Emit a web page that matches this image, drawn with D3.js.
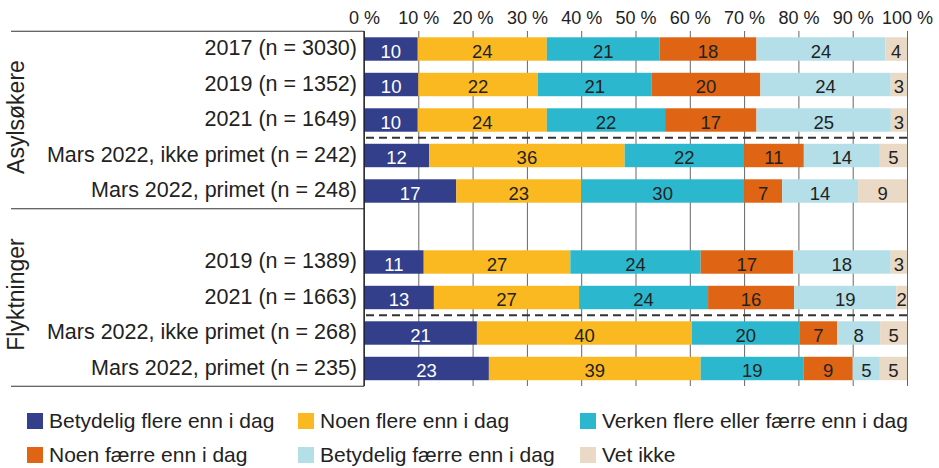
<!DOCTYPE html>
<html>
<head>
<meta charset="utf-8">
<script src="https://cdn.jsdelivr.net/npm/d3@7"></script>
<style>
  body { margin: 0; background: #fff; }
  svg { font-family: "Liberation Sans", Arial, sans-serif; }
</style>
</head>
<body>
<svg id="main"></svg>
<script>
// categories (one bar per row)
var rowLabels = [
  "2017 (n = 3030)", "2019 (n = 1352)", "2021 (n = 1649)",
  "Mars 2022, ikke primet (n = 242)", "Mars 2022, primet (n = 248)",
  "2019 (n = 1389)", "2021 (n = 1663)",
  "Mars 2022, ikke primet (n = 268)", "Mars 2022, primet (n = 235)"
];
var rowGroups = ["Asylsøkere", "Asylsøkere", "Asylsøkere", "Asylsøkere", "Asylsøkere",
  "Flyktninger", "Flyktninger", "Flyktninger", "Flyktninger"];
var groupNames = ["Asylsøkere", "Flyktninger"];

// series
var seriesNames = ["Betydelig flere enn i dag", "Noen flere enn i dag", "Verken flere eller færre enn i dag",
  "Noen færre enn i dag", "Betydelig færre enn i dag", "Vet ikke"];
var betydeligFlere  = [10, 10, 10, 12, 17, 11, 13, 21, 23];
var noenFlere       = [24, 22, 24, 36, 23, 27, 27, 40, 39];
var verken          = [21, 21, 22, 22, 30, 24, 24, 20, 19];
var noenFaerre      = [18, 20, 17, 11, 7, 17, 16, 7, 9];
var betydeligFaerre = [24, 24, 25, 14, 14, 18, 19, 8, 5];
var vetIkke         = [4, 3, 3, 5, 9, 3, 2, 5, 5];

var tickValues = [0, 10, 20, 30, 40, 50, 60, 70, 80, 90, 100];
var colors = ["#333f8a", "#fbb921", "#2bb8ce", "#df6414", "#b4dfe8", "#ead9c5"];

var allSeries = [betydeligFlere, noenFlere, verken, noenFaerre, betydeligFaerre, vetIkke];

var W = 939, H = 468;
var svg = d3.select("#main").attr("width", W).attr("height", H);

// row keys, with an empty slot between the two groups
var keys = [];
rowLabels.forEach(function(l, i) {
  if (i > 0 && rowGroups[i] != rowGroups[i - 1]) keys.push("gap");
  keys.push("r" + i);
});

var x = d3.scaleLinear().domain([0, 100]).range([364, 907]);
var y = d3.scaleBand().domain(keys).range([31.25, 386.25])
  .paddingInner(0.34).paddingOuter(0.17);
var step = y.step();
var edge = function(k) { return y(k) - step * 0.17; }; // top edge of a row slot

// grid lines
var grid = svg.append("g")
  .attr("transform", "translate(0,31)")
  .call(d3.axisTop(x).tickValues(tickValues).tickSize(-355).tickFormat(""));
grid.select(".domain").remove();
grid.selectAll(".tick line").attr("stroke", "#666").attr("stroke-width", 1);

// top axis labels
var axis = svg.append("g")
  .attr("transform", "translate(0,24)")
  .call(d3.axisTop(x).tickValues(tickValues).tickSize(0).tickPadding(0)
    .tickFormat(function(d) { return d + " %"; }));
axis.select(".domain").remove();
axis.selectAll("text").attr("font-size", 18).attr("fill", "#222")
  .attr("font-family", "'Liberation Sans', Arial, sans-serif");

// stacked bars
var rows = rowLabels.map(function(l, i) {
  var total = d3.sum(allSeries, function(s) { return s[i]; });
  var acc = 0;
  var segs = allSeries.map(function(s, j) {
    var seg = { j: j, v: s[i], x0: acc / total * 100, x1: (acc + s[i]) / total * 100 };
    acc += s[i];
    return seg;
  });
  return { key: "r" + i, label: l, segs: segs };
});

var rowG = svg.append("g").selectAll("g").data(rows).enter().append("g");
rowG.selectAll("rect").data(function(d) { return d.segs.map(function(s) { s.key = d.key; return s; }); })
  .enter().append("rect")
  .attr("x", function(d) { return x(d.x0); })
  .attr("width", function(d) { return x(d.x1) - x(d.x0); })
  .attr("y", function(d) { return y(d.key); })
  .attr("height", y.bandwidth())
  .attr("fill", function(d) { return colors[d.j]; });

rowG.selectAll("text.val").data(function(d) { return d.segs; })
  .enter().append("text")
  .attr("class", "val")
  .attr("x", function(d) { return (x(d.x0) + x(d.x1)) / 2; })
  .attr("y", function(d) { return y(d.key) + y.bandwidth() / 2 + 8.5; })
  .attr("text-anchor", "middle")
  .attr("font-size", 18.5)
  .attr("fill", function(d) { return d.j == 0 ? "#fff" : "#222"; })
  .text(function(d) { return d.v; });

// row labels
svg.append("g").selectAll("text").data(rows).enter().append("text")
  .attr("x", 357)
  .attr("y", function(d) { return y(d.key) + y.bandwidth() / 2 + 6; })
  .attr("text-anchor", "end")
  .attr("font-size", 21.5)
  .attr("fill", "#222")
  .text(function(d) { return d.label; });

// dashed separators between the survey years and March 2022
var dashAt = [];
rowLabels.forEach(function(l, i) {
  if (l.indexOf("ikke primet") >= 0) dashAt.push(edge("r" + i));
});
svg.append("g").selectAll("line").data(dashAt).enter().append("line")
  .attr("x1", 366).attr("x2", x(100))
  .attr("y1", function(d) { return d; }).attr("y2", function(d) { return d; })
  .attr("stroke", "#333").attr("stroke-width", 2).attr("stroke-dasharray", "8,5");

// group box on the left
var boxLines = [edge("r0"), edge("gap"), edge("r8") + step];
svg.append("g").selectAll("line").data(boxLines).enter().append("line")
  .attr("x1", 11).attr("x2", x(0))
  .attr("y1", function(d) { return d; }).attr("y2", function(d) { return d; })
  .attr("stroke", "#333").attr("stroke-width", 1.2);

// axis line at 0 %
svg.append("line")
  .attr("x1", x(0)).attr("x2", x(0))
  .attr("y1", boxLines[0]).attr("y2", boxLines[2])
  .attr("stroke", "#111").attr("stroke-width", 1.2);

// group labels
groupNames.forEach(function(g, gi) {
  var cy = (boxLines[gi] + boxLines[gi + 1]) / 2 - 3;
  svg.append("text")
    .attr("transform", "translate(24," + cy + ") rotate(-90)")
    .attr("text-anchor", "middle")
    .attr("font-size", 23)
    .attr("fill", "#222")
    .text(g);
});

// legend
var legX = [27, 298, 580], legY = [413, 447];
var leg = svg.append("g").selectAll("g").data(seriesNames).enter().append("g")
  .attr("transform", function(d, i) { return "translate(" + legX[i % 3] + "," + legY[Math.floor(i / 3)] + ")"; });
leg.append("rect").attr("width", 16).attr("height", 16)
  .attr("fill", function(d, i) { return colors[i]; });
leg.append("text").attr("x", 22).attr("y", 15)
  .attr("font-size", 21).attr("fill", "#222")
  .text(function(d) { return d; });
</script>
</body>
</html>
